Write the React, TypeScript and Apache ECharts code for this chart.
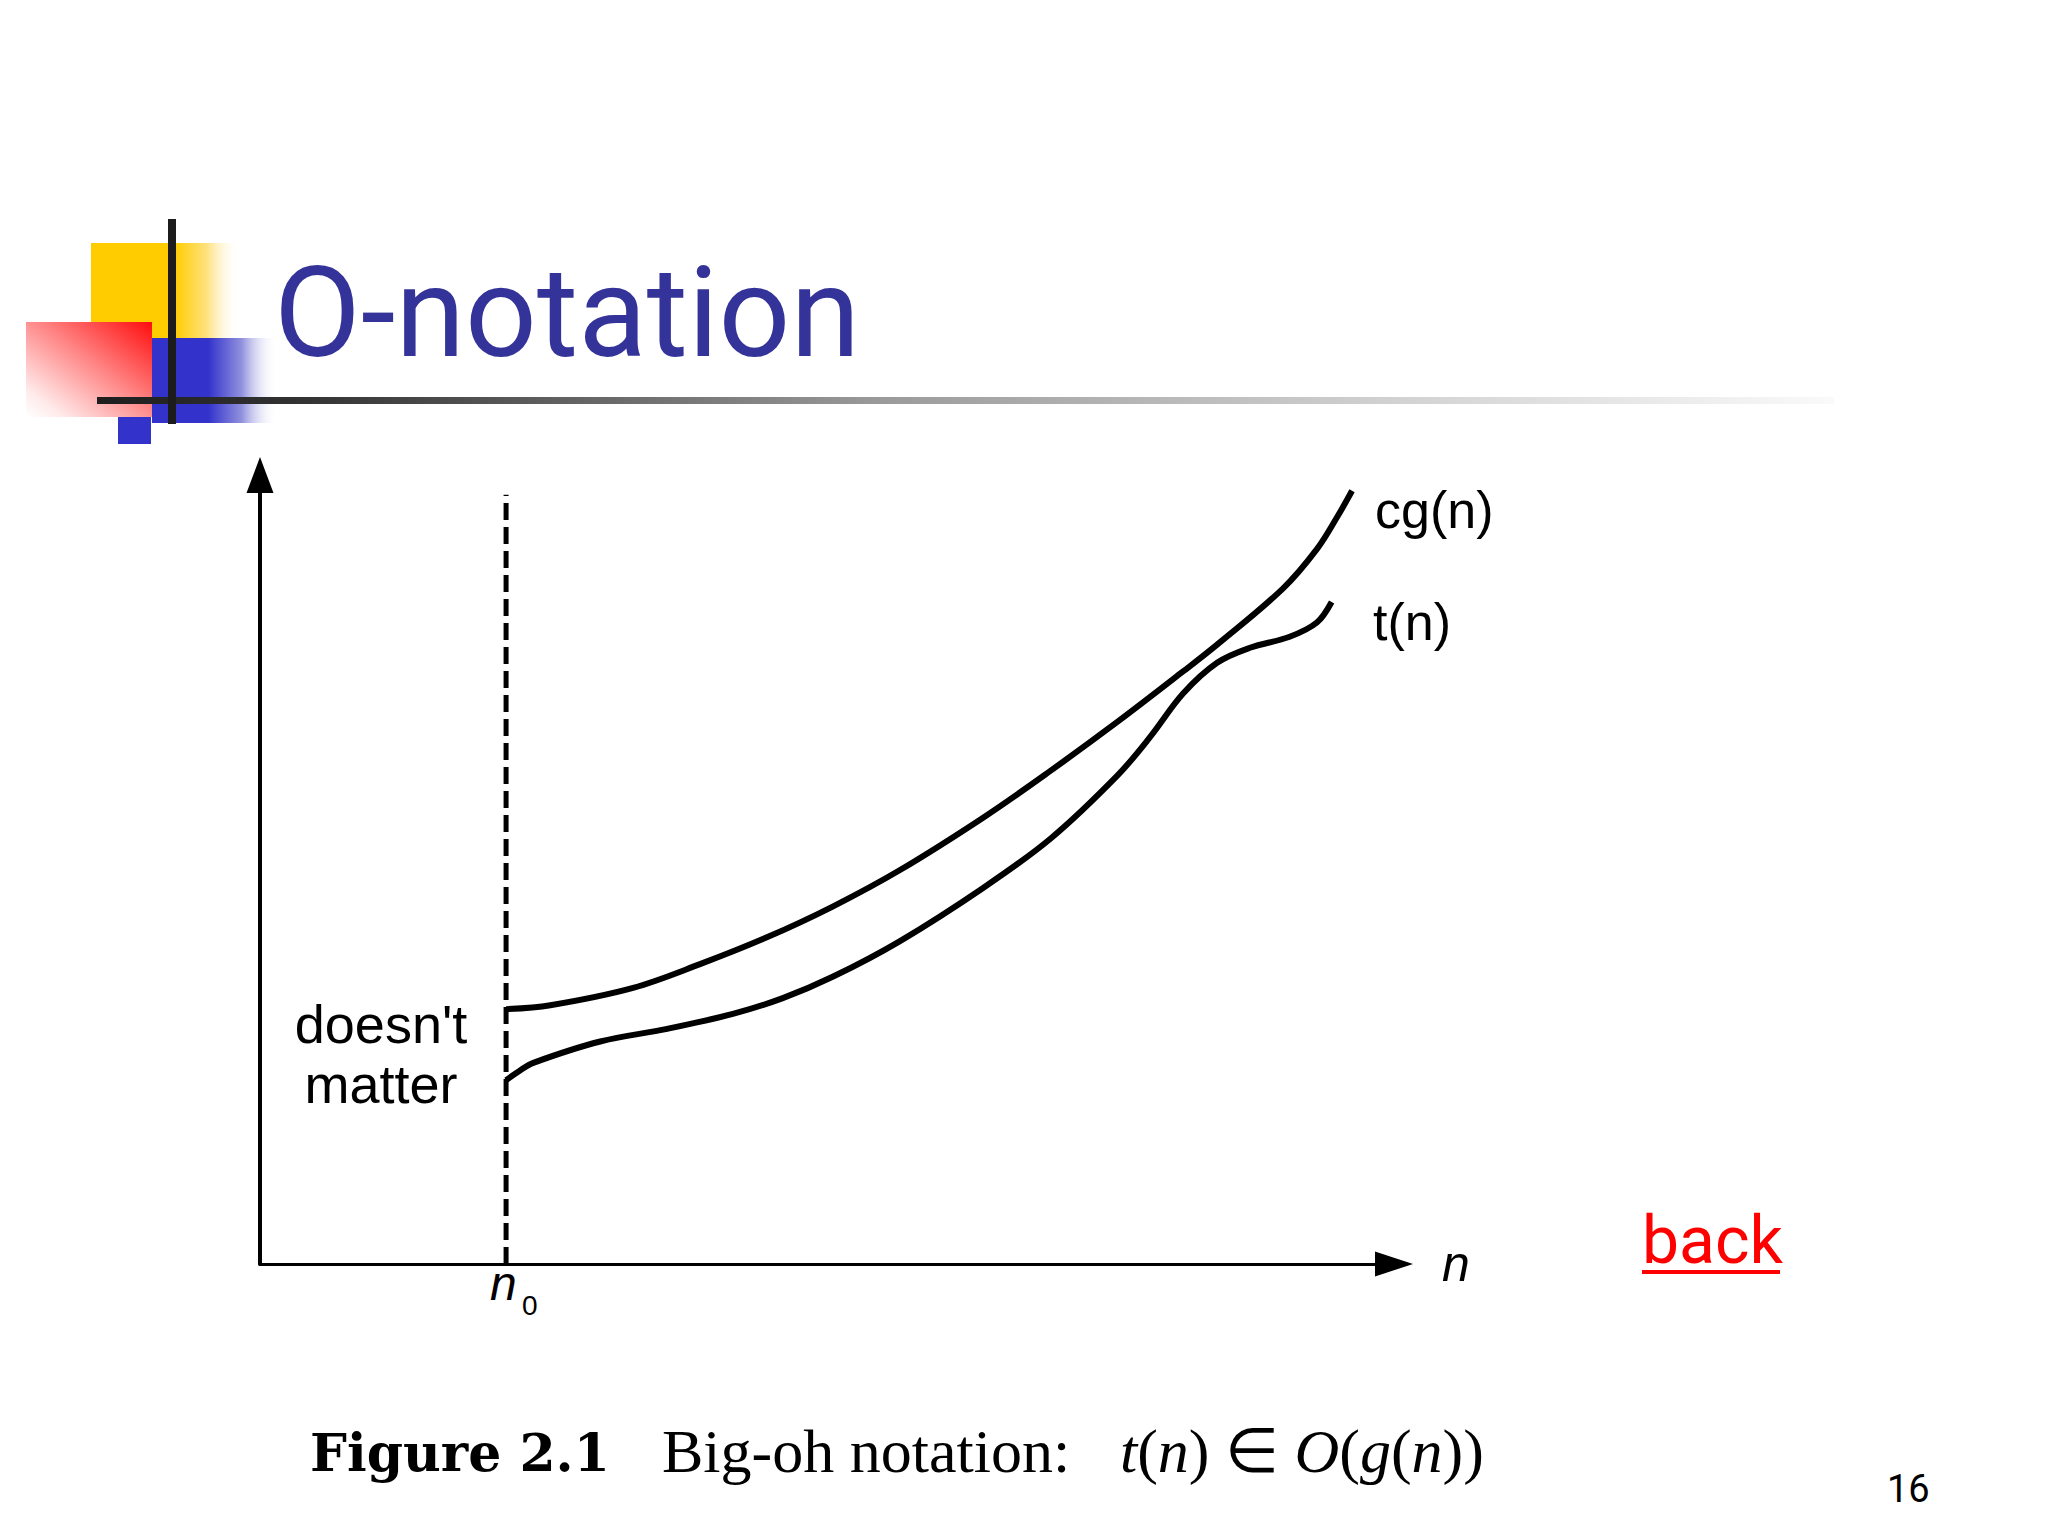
import React, { useEffect, useRef } from "react";
import * as echarts from "echarts";

// ---- data (axis units: n from 0 to 100, value from 0 to 100) ----
const n0 = 21.7;
const dashTop = 97.5;

const cgX = [21.7, 25.6, 32.9, 38.8, 44.7, 50.5, 56.4, 63.8, 69.7, 75.6, 81.4, 84.4, 90.2, 93.2, 95.0, 96.3];
const cgY = [32.3, 32.8, 35.0, 38.0, 41.4, 45.3, 49.9, 56.6, 62.5, 68.7, 75.1, 78.5, 85.6, 90.6, 94.7, 98.0];

const tX = [21.7, 22.9, 24.1, 30.0, 35.9, 41.7, 46.1, 50.5, 56.4, 63.8, 69.7, 75.6, 78.5, 81.4, 84.4, 87.3, 90.8, 93.2, 94.5];
const tY = [23.3, 24.5, 25.5, 28.2, 29.8, 31.7, 33.7, 36.4, 40.9, 47.7, 53.9, 61.9, 66.8, 72.3, 76.2, 78.1, 79.5, 81.3, 83.9];

const seriesNames = ["cg(n)", "t(n)"];
const titleText = "O-notation";
const captionBold = "Figure 2.1";
const captionText = "Big-oh notation:";
const sideNote = ["doesn't", "matter"];
const pageNo = "16";
const linkText = "back";

const sansFont = "'Liberation Sans', Arial, sans-serif";
const serifFont = "'Liberation Serif', 'Times New Roman', serif";

export default function App() {
  const ref = useRef<HTMLDivElement>(null);

  useEffect(() => {
    if (!ref.current) return;
    const chart = echarts.init(ref.current, null, { renderer: "svg" });

    const LG = echarts.graphic.LinearGradient;

    const option: any = {
      animation: false,
      backgroundColor: "#ffffff",
      grid: { left: 260, top: 475, width: 1134, height: 789 },
      xAxis: {
        type: "value",
        min: 0,
        max: 100,
        axisLine: {
          show: true,
          onZero: false,
          symbol: ["none", "triangle"],
          symbolSize: [25, 38],
          lineStyle: { color: "#000", width: 3 },
        },
        axisTick: { show: false },
        axisLabel: { show: false },
        splitLine: { show: false },
      },
      yAxis: {
        type: "value",
        min: 0,
        max: 100,
        axisLine: {
          show: true,
          onZero: false,
          symbol: ["none", "triangle"],
          symbolSize: [27, 36],
          lineStyle: { color: "#000", width: 4 },
        },
        axisTick: { show: false },
        axisLabel: { show: false },
        splitLine: { show: false },
      },
      series: [
        {
          type: "line",
          name: "n0",
          data: [
            [n0, 0],
            [n0, dashTop],
          ],
          symbol: "none",
          lineStyle: { color: "#000", width: 5, type: [17, 7] },
          z: 2,
        },
        {
          type: "line",
          name: seriesNames[0],
          data: cgX.map((x, i) => [x, cgY[i]]),
          smooth: 0.35,
          symbol: "none",
          lineStyle: { color: "#000", width: 6 },
          z: 3,
        },
        {
          type: "line",
          name: seriesNames[1],
          data: tX.map((x, i) => [x, tY[i]]),
          smooth: 0.35,
          symbol: "none",
          lineStyle: { color: "#000", width: 6 },
          z: 3,
        },
      ],
      graphic: [
        // slide decoration
        {
          type: "rect",
          shape: { x: 91, y: 243, width: 149, height: 95 },
          style: {
            fill: new LG(0, 0, 1, 0, [
              { offset: 0, color: "#ffcc00" },
              { offset: 0.56, color: "#ffcc00" },
              { offset: 0.78, color: "#ffe27f" },
              { offset: 1, color: "rgba(255,255,255,0)" },
            ]),
          },
          z: 1,
        },
        {
          type: "rect",
          shape: { x: 26, y: 322, width: 126, height: 95 },
          style: {
            fill: new LG(1, 0, 0, 1, [
              { offset: 0, color: "#ff0d0d" },
              { offset: 0.45, color: "#ff8585" },
              { offset: 0.85, color: "#ffeaea" },
              { offset: 1, color: "#ffffff" },
            ]),
          },
          z: 2,
        },
        {
          type: "rect",
          shape: { x: 152, y: 338, width: 125, height: 85 },
          style: {
            fill: new LG(0, 0, 1, 0, [
              { offset: 0, color: "#3333cc" },
              { offset: 0.45, color: "#3333cc" },
              { offset: 0.72, color: "#9292de" },
              { offset: 1, color: "rgba(255,255,255,0)" },
            ]),
          },
          z: 2,
        },
        {
          type: "rect",
          shape: { x: 118, y: 417, width: 33, height: 27 },
          style: { fill: "#3333cc" },
          z: 2,
        },
        {
          type: "rect",
          shape: { x: 97, y: 397, width: 1737, height: 7 },
          style: {
            fill: new LG(0, 0, 1, 0, [
              { offset: 0, color: "#1e1e1e" },
              { offset: 0.12, color: "#333333" },
              { offset: 0.45, color: "#9a9a9a" },
              { offset: 0.75, color: "#d2d2d2" },
              { offset: 1, color: "#fafafa" },
            ]),
          },
          z: 3,
        },
        {
          type: "rect",
          shape: { x: 168, y: 219, width: 8, height: 205 },
          style: { fill: "#1c1c1c" },
          z: 4,
        },
        // title
        {
          type: "text",
          x: 274,
          y: 313,
          style: {
            text: titleText,
            fontFamily: "Roboto, 'Noto Sans', sans-serif",
            fontSize: 126,
            fill: "#333399",
            align: "left",
            verticalAlign: "middle",
          },
          z: 5,
        },
        // curve labels
        {
          type: "text",
          x: 1375,
          y: 510,
          style: {
            text: seriesNames[0],
            fontFamily: sansFont,
            fontSize: 52,
            fill: "#000",
            align: "left",
            verticalAlign: "middle",
          },
        },
        {
          type: "text",
          x: 1373,
          y: 622,
          style: {
            text: seriesNames[1],
            fontFamily: sansFont,
            fontSize: 52,
            fill: "#000",
            align: "left",
            verticalAlign: "middle",
          },
        },
        // doesn't matter
        {
          type: "text",
          x: 381,
          y: 1024,
          style: {
            text: sideNote[0],
            fontFamily: sansFont,
            fontSize: 54,
            fill: "#000",
            align: "center",
            verticalAlign: "middle",
          },
        },
        {
          type: "text",
          x: 381,
          y: 1084,
          style: {
            text: sideNote[1],
            fontFamily: sansFont,
            fontSize: 54,
            fill: "#000",
            align: "center",
            verticalAlign: "middle",
          },
        },
        // n0 label
        {
          type: "text",
          x: 490,
          y: 1283,
          style: {
            text: "n",
            fontFamily: sansFont,
            fontStyle: "italic",
            fontSize: 48,
            fill: "#000",
            align: "left",
            verticalAlign: "middle",
          },
        },
        {
          type: "text",
          x: 522,
          y: 1305,
          style: {
            text: "0",
            fontFamily: sansFont,
            fontSize: 28,
            fill: "#000",
            align: "left",
            verticalAlign: "middle",
          },
        },
        // axis label n
        {
          type: "text",
          x: 1442,
          y: 1264,
          style: {
            text: "n",
            fontFamily: sansFont,
            fontStyle: "italic",
            fontSize: 50,
            fill: "#000",
            align: "left",
            verticalAlign: "middle",
          },
        },
        // back link
        {
          type: "text",
          x: 1642,
          y: 1240,
          style: {
            text: linkText,
            fontFamily: "Roboto, 'Noto Sans', sans-serif",
            fontSize: 66,
            fill: "#ff0000",
            align: "left",
            verticalAlign: "middle",
          },
        },
        {
          type: "rect",
          shape: { x: 1642, y: 1270, width: 138, height: 4 },
          style: { fill: "#ff0000" },
        },
        // caption
        {
          type: "text",
          x: 310,
          y: 1452,
          style: {
            text: captionBold,
            fontFamily: "'DejaVu Serif', serif",
            fontWeight: "bold",
            fontSize: 52,
            fill: "#000",
            align: "left",
            verticalAlign: "middle",
          },
        },
        {
          type: "text",
          x: 662,
          y: 1451,
          style: {
            text: captionText,
            fontFamily: serifFont,
            fontSize: 62,
            fill: "#000",
            align: "left",
            verticalAlign: "middle",
          },
        },
        {
          type: "text",
          x: 1120,
          y: 1451,
          style: {
            text: "{i|t}{r|(}{i|n}{r|)} {r|\u2208} {i|O}{r|(}{i|g}{r|(}{i|n}{r|))}",
            fontFamily: serifFont,
            fontSize: 62,
            fill: "#000",
            align: "left",
            verticalAlign: "middle",
            rich: {
              i: { fontFamily: serifFont, fontStyle: "italic", fontSize: 62, fill: "#000" },
              r: { fontFamily: serifFont, fontSize: 62, fill: "#000" },
            },
          },
        },
        // page number
        {
          type: "text",
          x: 1887,
          y: 1489,
          style: {
            text: pageNo,
            fontFamily: "Roboto, 'Noto Sans', sans-serif",
            fontSize: 38,
            fill: "#000",
            align: "left",
            verticalAlign: "middle",
          },
        },
      ],
    };

    chart.setOption(option);
    return () => {
      chart.dispose();
    };
  }, []);

  return (
    <div
      ref={ref}
      style={{ position: "fixed", left: 0, top: 0, width: 2048, height: 1534 }}
    />
  );
}
